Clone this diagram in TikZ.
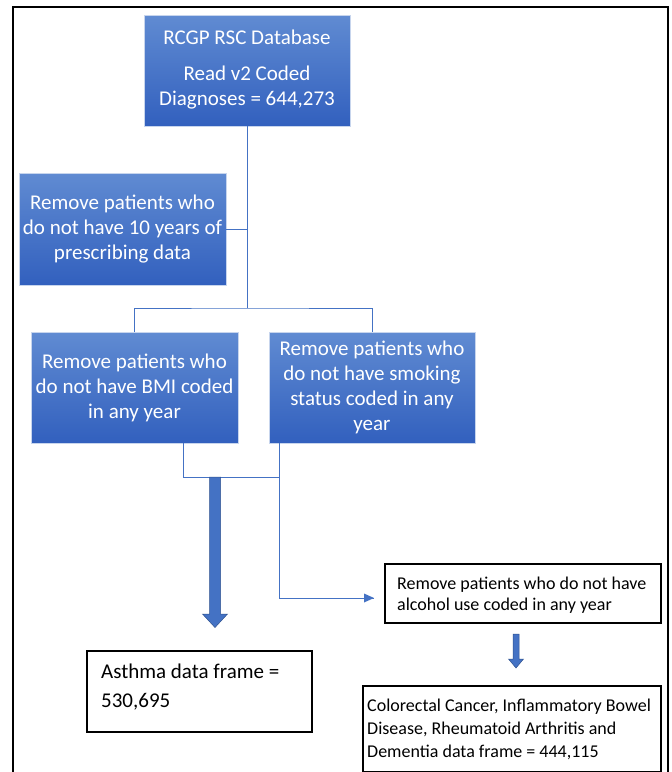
\documentclass[tikz,border=0pt]{standalone}
\usepackage{fontspec}
\setmainfont{Carlito}
\definecolor{boxtop}{RGB}{96,139,210}
\definecolor{boxbot}{RGB}{50,96,190}
\definecolor{conn}{RGB}{68,114,196}
\definecolor{arrowedge}{RGB}{47,82,143}
\begin{document}
\begin{tikzpicture}[x=1pt,y=-1pt,
  bluebox/.style={draw=white!70!conn,line width=0.6pt,top color=boxtop,bottom color=boxbot,
    text=white,align=center,inner sep=0pt,
    font=\fontsize{21}{25}\selectfont},
  plainbox/.style={draw=black,line width=1.4pt,fill=white,inner sep=0pt},
  connline/.style={draw=conn,line width=1pt},
  blockarrow/.style={fill=conn,draw=arrowedge,line width=0.5pt}
]
\useasboundingbox (0,0) rectangle (672,772);
\fill[white] (0,0) rectangle (672,772);
% outer frame
\draw[line width=2.2pt] (13,780) -- (13,7) -- (668,7) -- (668,780);

% blue boxes
\node[bluebox,minimum width=206pt,minimum height=111pt] (top) at (247,70.5) {};
\node[white,align=center,font=\fontsize{21}{25}\selectfont] (toptext) at (247,70) {RCGP RSC Database\\[11pt]Read v2 Coded\\Diagnoses = 644,273};

\node[bluebox,minimum width=207pt,minimum height=112pt] (presc) at (122.5,229) {Remove patients who\\do not have 10 years of\\prescribing data};

\node[bluebox,minimum width=207pt,minimum height=111pt] (bmi) at (134.5,387.5) {Remove patients who\\do not have BMI coded\\in any year};

\node[bluebox,minimum width=206pt,minimum height=111pt] (smoke) at (372,387.5) {Remove patients who\\do not have smoking\\status coded in any\\year};

% plain boxes
\node[plainbox,minimum width=276pt,minimum height=59pt] (alc) at (523,593.5) {};
\node[anchor=west,align=left,font=\fontsize{18}{20.5}\selectfont,inner sep=0pt] (alctext) at (397,595) {Remove patients who do not have\\alcohol use coded in any year};

\node[plainbox,minimum width=225pt,minimum height=81pt] (asthma) at (199.5,691.5) {};
\node[anchor=west,align=left,font=\fontsize{21}{29}\selectfont,inner sep=0pt] (asthmatext) at (101,687.5) {Asthma data frame =\\530,695};

\node[plainbox,minimum width=298pt,minimum height=86pt] (crc) at (512,729) {};
\node[anchor=west,align=left,font=\fontsize{18}{23}\selectfont,inner sep=0pt] (crctext) at (367,729) {Colorectal Cancer, Inflammatory Bowel\\Disease, Rheumatoid Arthritis and\\Dementia data frame = 444,115};

% connectors
\coordinate (branch) at (247,308);
\coordinate (bmiout) at (183,477);
\coordinate (smokeout) at (279,477);
\coordinate (turn) at (279,598);
\draw[connline] (top.south) -- (branch);
\draw[connline] (presc.east) -- (presc.east -| branch);
\draw[connline] (bmi.north) |- (branch) -| (smoke.north);
\draw[connline] (bmi.south -| bmiout) -- (bmiout) -- (smokeout);
\draw[connline] (smoke.south -| smokeout) -- (turn) -- (374,598);
\fill[conn] (374,598) -- (364,593.5) -- (364,602.5) -- cycle;

% block arrow to asthma
\draw[blockarrow] (209.5,477) -- (220.5,477) -- (220.5,614) -- (227.5,614) -- (215,627.5) -- (202.5,614) -- (209.5,614) -- cycle;
% small block arrow to crc
\draw[blockarrow] (513,634) -- (519,634) -- (519,659) -- (523.5,659) -- (516,668) -- (508.5,659) -- (513,659) -- cycle;
\end{tikzpicture}
\end{document}
